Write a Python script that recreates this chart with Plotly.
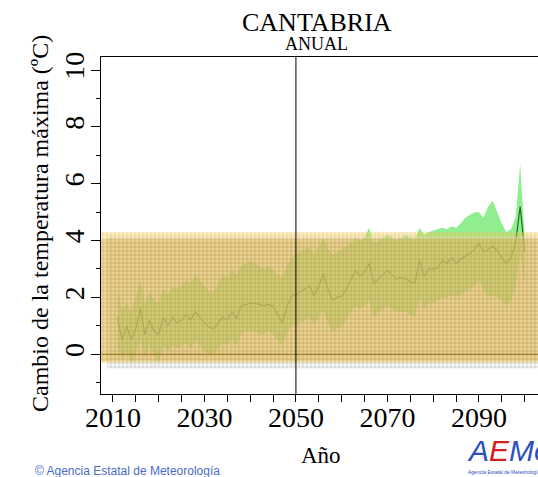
import plotly.graph_objects as go

years = list(range(2011, 2101))

median = [1.3, 0.5, 1.0, 0.5, 0.9, 1.6, 0.7, 1.2, 0.8, 0.7,
          1.3, 1.0, 1.3, 1.1, 1.2, 1.4, 1.2, 1.5, 1.3, 1.1,
          0.95, 0.9, 1.1, 1.3, 1.2, 1.5, 1.25, 1.7, 1.75, 1.8,
          1.8, 1.75, 1.7, 1.75, 1.7, 1.4, 1.1, 1.65, 2.05, 2.1,
          2.2, 2.3, 2.4, 2.05, 2.4, 2.85, 2.3, 1.9, 2.0, 2.05,
          2.3, 2.6, 2.95, 2.75, 2.9, 3.2, 2.5, 2.65, 2.8, 2.95,
          2.8, 2.65, 2.7, 2.65, 2.55, 2.5, 3.3, 2.75, 3.0, 3.0,
          3.05, 3.3, 3.2, 3.4, 3.2, 3.35, 3.45, 3.55, 3.7, 3.9,
          3.6, 3.7, 3.8, 3.65, 3.4, 3.2, 3.4, 3.9, 5.2, 3.6]

upper = [2.3, 1.6, 1.8, 1.5, 2.0, 2.6, 1.8, 2.2, 1.9, 1.8,
         2.3, 2.1, 2.4, 2.3, 2.4, 2.6, 2.5, 2.8, 2.6, 2.4,
         2.2, 2.2, 2.5, 2.8, 2.7, 3.0, 2.8, 3.1, 3.2, 3.3,
         3.2, 3.1, 3.0, 3.1, 3.0, 2.8, 2.7, 3.1, 3.4, 3.5,
         3.6, 3.7, 3.8, 3.5, 3.8, 4.1, 3.7, 3.5, 3.6, 3.7,
         3.8, 3.9, 4.1, 4.0, 4.1, 4.45, 3.9, 4.0, 4.1, 4.2,
         4.1, 4.0, 4.1, 4.2, 4.1, 4.0, 4.45, 4.2, 4.3, 4.35,
         4.4, 4.45, 4.4, 4.5, 4.45, 4.6, 4.8, 4.9, 5.0, 5.0,
         4.8, 5.2, 5.4, 5.0, 4.6, 4.3, 4.4, 4.8, 6.7, 4.1]

lower = [0.3, -0.2, 0.1, -0.3, 0.0, 0.5, -0.1, 0.3, 0.0, -0.3,
         0.3, 0.1, 0.3, 0.2, 0.3, 0.4, 0.2, 0.5, 0.3, 0.1,
         0.0, 0.0, 0.2, 0.4, 0.3, 0.5, 0.3, 0.7, 0.8, 0.8,
         0.8, 0.7, 0.7, 0.8, 0.7, 0.5, 0.3, 0.7, 1.0, 1.0,
         1.1, 1.2, 1.3, 1.0, 1.3, 1.6, 1.1, 0.8, 0.9, 1.0,
         1.2, 1.5, 1.7, 1.6, 1.7, 1.9, 1.3, 1.5, 1.6, 1.7,
         1.6, 1.5, 1.5, 1.5, 1.4, 1.3, 2.0, 1.6, 1.8, 1.8,
         1.9, 2.0, 2.0, 2.1, 2.0, 2.1, 2.2, 2.3, 2.4, 2.6,
         2.3, 2.0, 2.1, 2.0, 1.9, 1.7, 1.9, 2.4, 3.5, 2.5]

# reference-period variability bands (grey and gold hatched)
ref_grey = (-0.5, 4.15)
ref_gold = (-0.3, 4.3)
ref_gold_inner = (-0.25, 4.05)

x_range = [2007.4, 2102.9]
y_range = [-1.40, 10.46]

x_tickvals = list(range(2010, 2101, 5))
x_ticktext = [str(v) if (v - 2010) % 20 == 0 else "" for v in x_tickvals]
y_tickvals = [0, 2, 4, 6, 8, 10]

W, H = 538, 477
ML, MR, MT, MB = 101, 0, 57, 83
PW, PH = W - ML - MR, H - MT - MB


def px(x):
    return (x - ML) / PW


def py(y):
    return (H - MB - y) / PH


fig = go.Figure()

# green envelope (min-max of models)
fig.add_trace(go.Scatter(x=years + years[::-1], y=upper + lower[::-1],
                         fill="toself", fillcolor="rgba(144,238,144,1)",
                         line=dict(width=0), mode="lines", hoverinfo="skip"))
# median
fig.add_trace(go.Scatter(x=years, y=median, mode="lines",
                         line=dict(color="#1f6b1f", width=1.2)))


def band(lo_hi, fillcolor, fg, bg, solidity, x0=x_range[0]):
    lo, hi = lo_hi
    fig.add_trace(go.Scatter(
        x=[x0, x_range[1] + 1, x_range[1] + 1, x0, x0],
        y=[lo, lo, hi, hi, lo], fill="toself", fillcolor=fillcolor,
        fillpattern=dict(shape="+", size=4, solidity=solidity, fgcolor=fg, bgcolor=bg),
        line=dict(width=0), mode="lines", hoverinfo="skip"))


band(ref_grey, "rgba(255,255,255,0)", "rgba(150,150,150,0.9)", "rgba(235,235,235,0.4)", 0.35, 2008.7)
band(ref_gold, "rgba(240,200,90,0.35)", "rgba(225,175,30,0.75)", "rgba(240,205,100,0.35)", 0.3)
band(ref_gold_inner, "rgba(205,155,25,0.30)", "rgba(140,130,110,0.5)", "rgba(210,160,40,0.30)", 0.25)

# zero line
fig.add_trace(go.Scatter(x=[x_range[0], x_range[1] + 1], y=[0, 0], mode="lines",
                         line=dict(color="rgba(130,90,0,0.8)", width=1), hoverinfo="skip"))

fig.add_vline(x=2050, line=dict(color="black", width=1))

serif = "Liberation Serif"
fig.update_layout(
    width=W, height=H, showlegend=False,
    margin=dict(l=ML, r=MR, t=MT, b=MB, autoexpand=False),
    paper_bgcolor="white", plot_bgcolor="white",
    font=dict(family=serif, color="black"),
    xaxis=dict(range=x_range, showgrid=False, zeroline=False, showline=True,
               linecolor="black", linewidth=1, mirror=True, automargin=False,
               ticks="outside", ticklen=7, tickcolor="black",
               tickvals=x_tickvals, ticktext=x_ticktext, ticklabelstandoff=-9,
               tickfont=dict(size=28, family=serif)),
    yaxis=dict(range=y_range, showgrid=False, zeroline=False, showline=True,
               linecolor="black", linewidth=1, automargin=False,
               ticks="outside", ticklen=9, tickcolor="black",
               tickvals=y_tickvals, tickangle=-90, ticklabelstandoff=-4,
               tickfont=dict(size=28, family=serif),
               minor=dict(tickvals=[-1, 1, 3, 5, 7, 9], ticklen=4, ticks="outside", tickcolor="black")),
)

annos = [
    dict(text="CANTABRIA", x=317, y=22, size=26),
    dict(text="ANUAL", x=316, y=44, size=18),
    dict(text="Año", x=321, y=455, size=23),
]
for a in annos:
    fig.add_annotation(text=a["text"], x=px(a["x"]), y=py(a["y"]),
                       xref="paper", yref="paper", showarrow=False,
                       xanchor="center", yanchor="middle",
                       font=dict(size=a["size"], family=serif, color="black"))

fig.add_annotation(text="Cambio de la temperatura máxima (ºC)", textangle=-90,
                   x=px(40), y=py(224), xref="paper", yref="paper",
                   showarrow=False, xanchor="center", yanchor="middle",
                   font=dict(size=24, family=serif, color="black"))

fig.add_annotation(text="© Agencia Estatal de Meteorología", x=px(33), y=py(471),
                   xref="paper", yref="paper", showarrow=False, xanchor="left", yanchor="middle",
                   font=dict(size=12, family="Liberation Sans", color="#4a6cc8"))

# logo approximation
fig.add_annotation(text="<i><span style='color:#2f4fc0'>A</span><span style='color:#d42020'>E</span><span style='color:#2f4fc0'>Me</span></i>",
                   x=px(465), y=py(450), xref="paper", yref="paper", showarrow=False,
                   xanchor="left", yanchor="middle",
                   font=dict(size=30, family="Liberation Sans"))
fig.add_annotation(text="Agencia Estatal de Meteorología", x=px(466), y=py(472),
                   xref="paper", yref="paper", showarrow=False, xanchor="left", yanchor="middle",
                   font=dict(size=5, family="Liberation Sans", color="#2f4fc0"))

fig.write_html("out.html", config={"displayModeBar": False},
               post_script="document.body.style.margin='0';document.body.style.overflow='hidden';")
